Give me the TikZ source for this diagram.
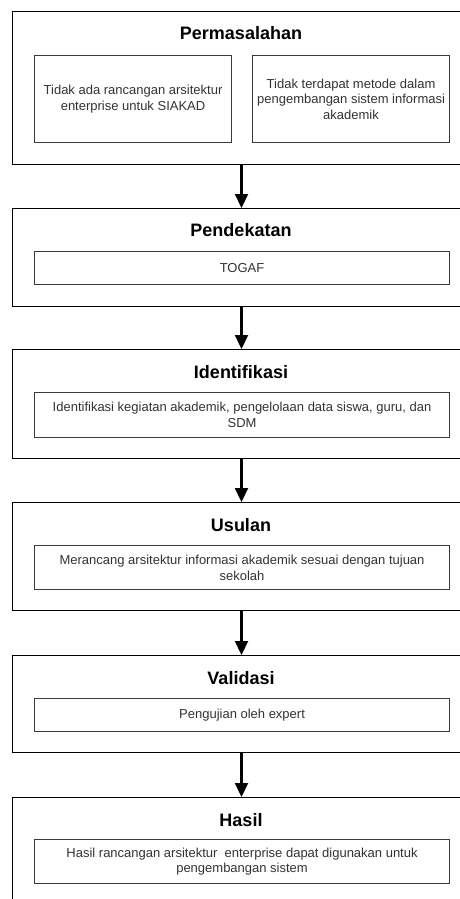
\documentclass[tikz,border=0pt]{standalone}
\usepackage{fontspec}
\setmainfont{Liberation Sans}
\usetikzlibrary{arrows.meta}
\definecolor{txt}{HTML}{333333}
\definecolor{inb}{HTML}{3A3A3A}
\tikzset{
  outerbox/.style={draw=black, line width=1pt, minimum width=458pt, anchor=north west, inner sep=0pt},
  innerbox/.style={draw=inb, line width=1.1pt, anchor=north west, inner sep=0pt, align=center, text=txt,
     font=\fontsize{13pt}{15.6pt}\selectfont},
  titletext/.style={font=\bfseries\fontsize{18pt}{20pt}\selectfont, text=black, inner sep=0pt},
  flow/.style={line width=2.2pt, -{Triangle[width=13pt,length=14pt]}}
}
\begin{document}
\begin{tikzpicture}[x=1pt,y=1pt]
\useasboundingbox (0,0) rectangle (460,-899);
\clip (0,0) rectangle (460,-899);
\fill[white] (0,0) rectangle (460,-899);
% 1
\node[outerbox, minimum height=153pt] (b1) at (12,-11) {};
\node[titletext] (t1) at (241,-33) {Permasalahan};
\node[innerbox, minimum width=197pt, minimum height=87pt] (i1a) at (34,-55) {Tidak ada rancangan arsitektur\\enterprise untuk SIAKAD};
\node[innerbox, minimum width=197pt, minimum height=87pt] (i1b) at (252,-55) {Tidak terdapat metode dalam\\pengembangan sistem informasi\\akademik};
% 2
\node[outerbox, minimum height=98pt] (b2) at (12,-208) {};
\node[titletext] (t2) at (241,-230) {Pendekatan};
\node[innerbox, minimum width=415pt, minimum height=33pt] (i2) at (34,-251) {TOGAF};
% 3
\node[outerbox, minimum height=109pt] (b3) at (12,-349) {};
\node[titletext] (t3) at (241,-372) {Identifikasi};
\node[innerbox, minimum width=415pt, minimum height=45pt] (i3) at (34,-392) {Identifikasi kegiatan akademik, pengelolaan data siswa, guru, dan\\SDM};
% 4
\node[outerbox, minimum height=108pt] (b4) at (12,-502) {};
\node[titletext] (t4) at (241,-525) {Usulan};
\node[innerbox, minimum width=415pt, minimum height=44pt] (i4) at (34,-545) {Merancang arsitektur informasi akademik sesuai dengan tujuan\\sekolah};
% 5
\node[outerbox, minimum height=97pt] (b5) at (12,-655) {};
\node[titletext] (t5) at (241,-678) {Validasi};
\node[innerbox, minimum width=415pt, minimum height=33pt] (i5) at (34,-698) {Pengujian oleh expert};
% 6
\node[outerbox, minimum height=160pt] (b6) at (12,-797) {};
\node[titletext] (t6) at (241,-820) {Hasil};
\node[innerbox, minimum width=415pt, minimum height=44pt] (i6) at (34,-839) {Hasil rancangan arsitektur\ \ enterprise dapat digunakan untuk\\pengembangan sistem};
% arrows
\draw[flow] (b1.south) -- (b2.north);
\draw[flow] (b2.south) -- (b3.north);
\draw[flow] (b3.south) -- (b4.north);
\draw[flow] (b4.south) -- (b5.north);
\draw[flow] (b5.south) -- (b6.north);
\end{tikzpicture}
\end{document}
